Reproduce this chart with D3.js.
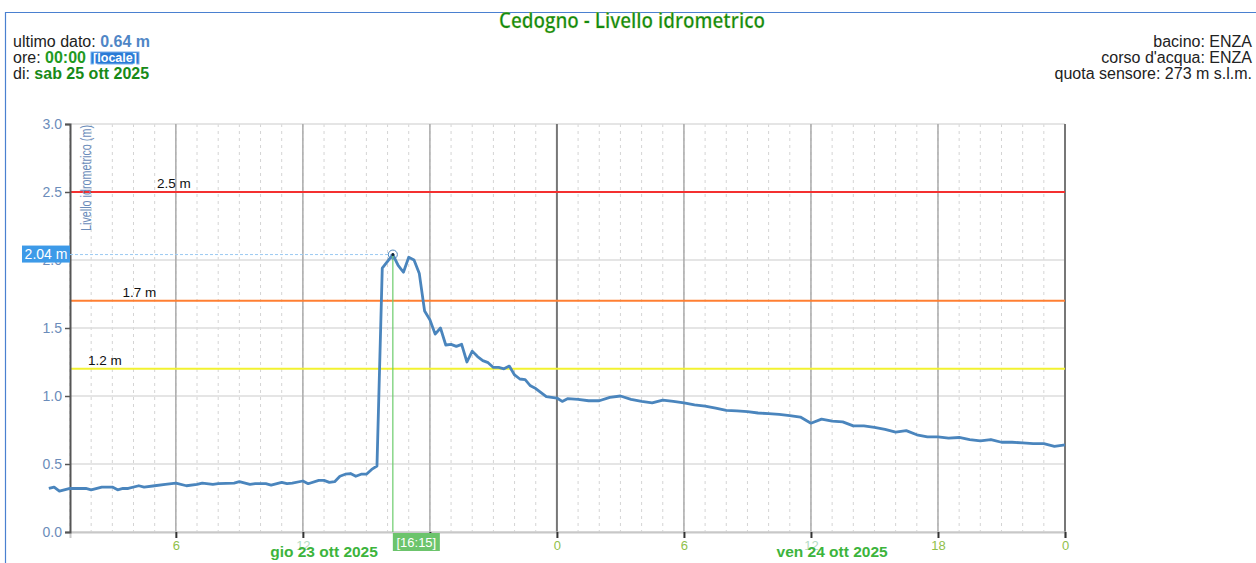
<!DOCTYPE html>
<html>
<head>
<meta charset="utf-8">
<script src="https://cdn.jsdelivr.net/npm/d3@7"></script>
<style>
  body { margin: 0; background: #fff; }
  text { font-family: "Liberation Sans", Arial, sans-serif; }
</style>
</head>
<body>
<div id="chart"></div>
<script>
// hours elapsed since gio 23 ott 2025 00:00 (local time)
const hours = [
  0, 0.25, 0.5, 1, 1.75, 2, 2.5, 3, 3.25, 3.5, 3.75, 4.25, 4.5, 5, 5.5, 6,
  6.5, 7, 7.25, 7.75, 8, 8.75, 9, 9.5, 9.75, 10.25, 10.5, 11, 11.25, 11.5,
  12, 12.25, 12.75, 13, 13.25, 13.5, 13.75, 14, 14.25, 14.5, 14.75, 15, 15.25, 15.5,
  15.75, 16.25, 16.5, 16.75, 17, 17.25, 17.5, 17.75, 18, 18.25, 18.5, 18.75,
  19, 19.25, 19.5, 19.75, 20, 20.25, 20.5, 20.75, 21, 21.25, 21.5, 21.75,
  22, 22.25, 22.5, 22.75, 23, 23.25, 23.5, 23.75, 24, 24.25, 24.5,
  25, 25.5, 26, 26.5, 27, 27.5, 28, 28.5, 29, 29.5, 30, 30.5, 31, 31.5,
  32, 32.5, 33, 33.5, 34, 34.5, 35, 35.5, 36, 36.5, 37, 37.5, 38, 38.5,
  39, 39.5, 40, 40.5, 41, 41.5, 42, 42.5, 43, 43.5, 44, 44.5, 45, 45.5,
  46, 46.5, 47, 47.5, 48
];
// livello idrometrico (m)
const levels = [
  0.32, 0.33, 0.30, 0.32, 0.32, 0.31, 0.33, 0.33, 0.31, 0.32, 0.32, 0.34, 0.33, 0.34, 0.35, 0.36,
  0.34, 0.35, 0.36, 0.35, 0.355, 0.36, 0.37, 0.35, 0.355, 0.355, 0.345, 0.365, 0.355, 0.36,
  0.375, 0.355, 0.38, 0.38, 0.365, 0.37, 0.41, 0.425, 0.43, 0.41, 0.425, 0.425, 0.46, 0.485,
  1.94, 2.04, 1.96, 1.91, 2.02, 2.00, 1.90, 1.625, 1.56, 1.455, 1.50, 1.375,
  1.38, 1.365, 1.38, 1.25, 1.33, 1.29, 1.26, 1.245, 1.21, 1.21, 1.20, 1.22,
  1.155, 1.125, 1.12, 1.075, 1.055, 1.025, 0.995, 0.99, 0.985, 0.96, 0.98,
  0.975, 0.965, 0.965, 0.99, 1.00, 0.975, 0.96, 0.95, 0.97, 0.96, 0.95, 0.935, 0.925, 0.91,
  0.895, 0.89, 0.885, 0.875, 0.87, 0.865, 0.855, 0.845, 0.80, 0.83, 0.815, 0.81, 0.78, 0.78,
  0.77, 0.755, 0.735, 0.745, 0.715, 0.70, 0.70, 0.69, 0.695, 0.68, 0.67, 0.68, 0.66, 0.66,
  0.655, 0.65, 0.65, 0.63, 0.64
];

const thresholds = [2.5, 1.7, 1.2];
const thresholdColors = ['#f43030', '#ff7f32', '#f2f230'];
const yTicks = [0, 0.5, 1, 1.5, 2, 2.5, 3];
const dayLabels = ['gio 23 ott 2025', 'ven 24 ott 2025'];
const infoLeft = { ultimo: '0.64 m', ore: '00:00', di: 'sab 25 ott 2025' };
const infoRight = ['bacino: ENZA', "corso d'acqua: ENZA", 'quota sensore: 273 m s.l.m.'];
const hoverHour = 16.25;

const W = 1256, H = 563;
const margin = { left: 70, right: 191, top: 124, bottom: 31 };
const base = new Date(2025, 9, 23, 0, 0);
const toDate = h => new Date(base.getTime() + h * 3600e3);
const data = hours.map((h, i) => ({ t: toDate(h), v: levels[i] }));

const svg = d3.select('#chart').append('svg')
  .attr('width', W).attr('height', H);

const x = d3.scaleTime()
  .domain([toDate(1), toDate(48)])
  .range([margin.left, W - margin.right]);
const y = d3.scaleLinear()
  .domain([0, 3])
  .range([H - margin.bottom, margin.top]);

// frame
svg.append('path')
  .attr('d', `M5.5,${H} V12.5 H${W}`)
  .attr('fill', 'none').attr('stroke', '#4a80d0').attr('stroke-width', 1.2);

// title
svg.append('text')
  .attr('x', 632).attr('y', 28)
  .attr('text-anchor', 'middle')
  .attr('textLength', 266).attr('lengthAdjust', 'spacingAndGlyphs')
  .style('font-family', '"Open Sans", sans-serif')
  .style('font-size', '22px')
  .style('font-weight', '600')
  .style('fill', '#128a12')
  .style('stroke', '#d0dc70').style('stroke-width', 0.25)
  .text('Cedogno - Livello idrometrico');

// info on the left
const info = svg.append('g').style('font-size', '16px');
const l1 = info.append('text').attr('x', 13).attr('y', 47);
l1.append('tspan').style('fill', '#222').text('ultimo dato: ');
l1.append('tspan').style('fill', '#4f86c6').style('font-weight', 'bold').text(infoLeft.ultimo);
const l2 = info.append('text').attr('x', 13).attr('y', 63);
l2.append('tspan').style('fill', '#222').text('ore: ');
l2.append('tspan').style('fill', '#1f9a1f').style('font-weight', 'bold').text(infoLeft.ore);
info.append('rect')
  .attr('x', 91).attr('y', 52).attr('width', 48).attr('height', 12)
  .attr('fill', '#2a7bd6').attr('stroke', '#7ab0ee').attr('stroke-width', 1);
info.append('text')
  .attr('x', 115).attr('y', 62).attr('text-anchor', 'middle')
  .style('font-size', '12.5px').style('font-weight', 'bold').style('fill', '#fff')
  .text('[locale]');
const l3 = info.append('text').attr('x', 13).attr('y', 79);
l3.append('tspan').style('fill', '#222').text('di: ');
l3.append('tspan').style('fill', '#188a18').style('font-weight', 'bold').text(infoLeft.di);

// info on the right
svg.append('g').selectAll('text')
  .data(infoRight)
  .join('text')
  .attr('x', 1252)
  .attr('y', (d, i) => 47 + i * 16)
  .attr('text-anchor', 'end')
  .style('font-size', '16px').style('fill', '#222')
  .text(d => d);

const grid = svg.append('g');

// minor vertical grid (every hour)
grid.selectAll('line.minor')
  .data(d3.timeHour.every(1).range(x.domain()[0], x.domain()[1]))
  .join('line')
  .attr('class', 'minor')
  .attr('x1', d => x(d)).attr('x2', d => x(d))
  .attr('y1', y(3)).attr('y2', y(0))
  .attr('stroke', '#d4d4d4').attr('stroke-dasharray', '3,4');

// horizontal grid
grid.selectAll('line.hgrid')
  .data(yTicks)
  .join('line')
  .attr('class', 'hgrid')
  .attr('x1', margin.left).attr('x2', W - margin.right)
  .attr('y1', d => y(d)).attr('y2', d => y(d))
  .attr('stroke', '#dcdcdc').attr('stroke-width', 1.5);

// major vertical grid (every 6 hours)
const majorTicks = d3.timeHour.every(6).range(x.domain()[0], d3.timeHour.offset(x.domain()[1], 1));
grid.selectAll('line.major')
  .data(majorTicks)
  .join('line')
  .attr('class', 'major')
  .attr('x1', d => x(d)).attr('x2', d => x(d))
  .attr('y1', y(3)).attr('y2', y(0))
  .attr('stroke', d => d.getHours() === 0 ? '#777' : '#aaa')
  .attr('stroke-width', d => d.getHours() === 0 ? 2 : 1.5);

// threshold lines
thresholds.forEach((t, i) => {
  svg.append('line')
    .attr('x1', margin.left).attr('x2', W - margin.right)
    .attr('y1', y(t)).attr('y2', y(t))
    .attr('stroke', thresholdColors[i]).attr('stroke-width', 2);
  svg.append('text')
    .attr('x', 157 - i * 34.5).attr('y', y(t) - 4)
    .style('font-size', '13.5px').style('fill', '#111')
    .text(`${t} m`);
});

// x axis
const xAxis = svg.append('g')
  .attr('transform', `translate(0,${y(0)})`)
  .call(d3.axisBottom(x)
    .tickValues(majorTicks)
    .tickSize(6)
    .tickPadding(3)
    .tickFormat(d => d.getHours()));
xAxis.select('.domain').attr('stroke', '#c8c8c8').attr('stroke-width', 2);
xAxis.selectAll('.tick line').attr('stroke', '#333').attr('stroke-width', 2);
xAxis.selectAll('.tick text')
  .style('font-size', '13px')
  .style('fill', d => d.getHours() === 12 ? '#b4dcc4' : '#8fc04a');

// day labels
svg.selectAll('text.day')
  .data(dayLabels)
  .join('text')
  .attr('class', 'day')
  .attr('x', (d, i) => x(toDate(13 + i * 24)))
  .attr('y', 557)
  .attr('text-anchor', 'middle')
  .style('font-size', '15.5px').style('font-weight', 'bold').style('fill', '#3cb43c')
  .text(d => d);

// y axis
const yAxis = svg.append('g')
  .attr('transform', `translate(${margin.left},0)`)
  .call(d3.axisLeft(y)
    .tickValues(yTicks)
    .tickSize(5)
    .tickPadding(3)
    .tickFormat(d3.format('.1f')));
yAxis.select('.domain').attr('stroke', '#555').attr('stroke-width', 2);
yAxis.selectAll('.tick line').attr('stroke', '#555').attr('stroke-width', 1.5);
yAxis.selectAll('.tick text').style('font-size', '14px').style('fill', '#6b8cba');

svg.append('text')
  .attr('transform', `translate(91,125) rotate(-90)`)
  .attr('text-anchor', 'end')
  .attr('textLength', 106).attr('lengthAdjust', 'spacingAndGlyphs')
  .style('font-size', '15px').style('fill', '#6b8cba')
  .text('Livello idrometrico (m)');

// series
const line = d3.line()
  .x(d => x(d.t))
  .y(d => y(d.v));
svg.append('path')
  .datum(data)
  .attr('fill', 'none')
  .attr('stroke', '#4a85bd')
  .attr('stroke-width', 2.8)
  .attr('stroke-linejoin', 'round')
  .attr('d', line);

// hover marker
const hp = data.find(d => +d.t === +toDate(hoverHour));
const hx = x(hp.t), hy = y(hp.v);
svg.append('line')
  .attr('x1', margin.left).attr('x2', hx)
  .attr('y1', hy).attr('y2', hy)
  .attr('stroke', '#9ccaf2').attr('stroke-dasharray', '3,2');
svg.append('line')
  .attr('x1', hx).attr('x2', hx)
  .attr('y1', hy).attr('y2', y(0))
  .attr('stroke', '#6ccc6c').attr('stroke-width', 1.2);
svg.append('circle')
  .attr('cx', hx).attr('cy', hy).attr('r', 4.5)
  .attr('fill', 'none').attr('stroke', '#4a85bd').attr('stroke-width', 1);
svg.append('circle')
  .attr('cx', hx).attr('cy', hy).attr('r', 1.5).attr('fill', '#123');

svg.append('rect')
  .attr('x', 22).attr('y', hy - 9).attr('width', 48).attr('height', 17)
  .attr('fill', '#3d9ae8');
svg.append('text')
  .attr('x', 46).attr('y', hy + 4.5).attr('text-anchor', 'middle')
  .style('font-size', '14px').style('fill', '#fff')
  .text(`${hp.v.toFixed(2)} m`);

svg.append('rect')
  .attr('x', hx).attr('y', y(0) + 1).attr('width', 47).attr('height', 18)
  .attr('fill', '#6cc46c');
svg.append('text')
  .attr('x', hx + 23.5).attr('y', y(0) + 14.5).attr('text-anchor', 'middle')
  .style('font-size', '13px').style('fill', '#fff')
  .text(`[${d3.timeFormat('%H:%M')(hp.t)}]`);
</script>
</body>
</html>
